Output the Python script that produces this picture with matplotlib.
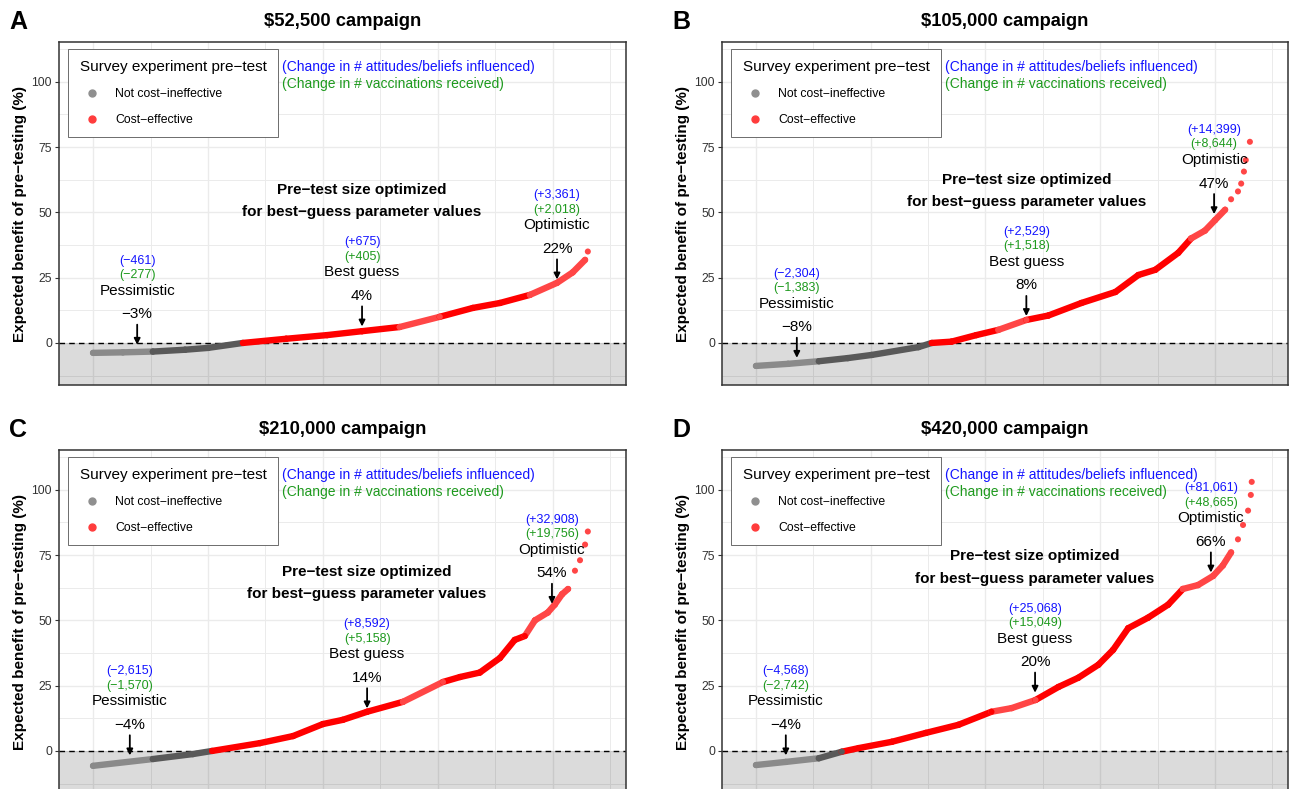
import matplotlib
matplotlib.use("Agg")
import matplotlib.pyplot as plt
from matplotlib.lines import Line2D

plt.rcParams['font.family'] = ['Liberation Sans', 'DejaVu Sans']

# ---- data (x = simulation rank after sorting, y = benefit %) ----
titles = ["$52,500 campaign", "$105,000 campaign", "$210,000 campaign", "$420,000 campaign"]
letters = ["A", "B", "C", "D"]

rank_a = [0, 65, 130, 200, 250, 326, 420, 509, 585, 667, 754, 826, 885, 950, 1009, 1043, 1070, 1076]
benefit_a = [-3.8, -3.6, -3.3, -2.6, -1.9, 0, 1.6, 3, 4.5, 6.1, 10, 13.4, 15.3, 18.4, 23, 27, 31.8, 35]

rank_b = [0, 70, 137, 200, 252, 354, 383, 426, 480, 528, 589, 637, 709, 783, 833, 870, 920, 948, 978,
          1000, 1022, 1035, 1050, 1057, 1063, 1067, 1076]
benefit_b = [-8.8, -8, -7, -5.8, -4.6, -1.6, 0, 0.5, 3, 5, 8.8, 10.5, 15.3, 19.5, 26, 28, 34.5, 40, 43,
             47, 51, 55, 58, 61, 65.6, 70, 77]

rank_c = [0, 130, 217, 259, 363, 435, 500, 543, 596, 674, 761, 798, 841, 885, 917, 939, 961, 989, 1004,
          1020, 1033, 1048, 1059, 1070, 1076]
benefit_c = [-5.7, -3.1, -1.2, 0, 3, 5.7, 10.3, 11.9, 15, 18.8, 26.4, 28.3, 30, 35.6, 42.5, 44, 50, 53, 56,
             60, 62, 69, 73, 79, 84]

rank_d = [0, 65, 137, 187, 224, 296, 370, 441, 513, 557, 609, 659, 702, 746, 778, 811, 854, 898, 930,
          963, 996, 1017, 1035, 1050, 1061, 1072, 1078, 1080]
benefit_d = [-5.4, -4.2, -2.8, -0.3, 1.1, 3.5, 6.9, 10, 15, 16.4, 19.5, 24.5, 28, 33, 38.7, 47, 51, 56, 62,
             63.5, 67, 71, 76, 81, 86.5, 92, 98, 103]

# scenario markers: rank, headline %, change in attitudes, change in vaccinations
scenario_names = ["Pessimistic", "Best guess", "Optimistic"]
scen_rank = [[96, 585, 1009], [89, 589, 998], [80, 596, 998], [65, 608, 991]]
scen_pct = [[-3, 4, 22], [-8, 8, 47], [-4, 14, 54], [-4, 20, 66]]
scen_att = [[-461, 675, 3361], [-2304, 2529, 14399], [-2615, 8592, 32908], [-4568, 25068, 81061]]
scen_vac = [[-277, 405, 2018], [-1383, 1518, 8644], [-1570, 5158, 19756], [-2742, 15049, 48665]]

# parts of the curve drawn lighter (less overlap of points); sparse top points drawn as dots only
gray_light_end = [130, 137, 130, 137]
red_light = [[(667, 754), (950, 1080)], [(528, 600), (935, 1080)],
             [(674, 761), (940, 1080)], [(535, 609), (930, 1080)]]
n_sparse = [1, 6, 4, 5]

ranks = [rank_a, rank_b, rank_c, rank_d]
benefits = [benefit_a, benefit_b, benefit_c, benefit_d]

W, H = 1290, 789
fig = plt.figure(figsize=(W / 100, H / 100), dpi=100)
boxes = [(59, 42, 626, 385), (722, 42, 1288, 385), (59, 450, 626, 793), (722, 450, 1288, 793)]


def sgn(v):
    return f"({v:+,})".replace("-", "\u2212")


def seg_color(r, v, k):
    if v < 0:
        return '#8a8a8a' if r < gray_light_end[k] else '#595959'
    for lo, hi in red_light[k]:
        if lo <= r <= hi:
            return '#ff4646'
    return '#ff0000'


for k in range(4):
    l, t, r, b = boxes[k]
    ax = fig.add_axes([l / W, 1 - b / H, (r - l) / W, (b - t) / H])
    ax.set_xlim(-74, 1159)
    ax.set_ylim(-16.1, 115.2)

    ax.set_xticks(range(0, 1126, 250))
    ax.set_xticks(range(125, 1126, 250), minor=True)
    ax.set_yticks([0, 25, 50, 75, 100])
    ax.set_yticks([-12.5, 12.5, 37.5, 62.5, 87.5, 112.5], minor=True)
    ax.grid(which='major', color='#ebebeb', lw=1.0)
    ax.grid(which='minor', color='#ebebeb', lw=0.7)
    ax.set_axisbelow(True)
    ax.tick_params(axis='x', which='both', length=0, labelbottom=False)
    ax.tick_params(axis='y', which='major', length=3, width=0.8, color='#333333',
                   labelsize=8.8, labelcolor='#333333', pad=2)
    ax.tick_params(axis='y', which='minor', length=0)
    for s in ax.spines.values():
        s.set_color('#333333')
        s.set_linewidth(1.1)

    # not cost-effective zone
    ax.axhspan(-16.1, 0, color='black', alpha=0.14, lw=0, zorder=1)
    ax.axhline(0, color='black', ls=(0, (4, 3)), lw=1.0, zorder=2)

    x = ranks[k]
    y = benefits[k]
    last = len(x) - n_sparse[k]
    for i in range(last - 1):
        c = seg_color((x[i] + x[i + 1]) / 2, (y[i] + y[i + 1]) / 2, k)
        ax.plot(x[i:i + 2], y[i:i + 2], color=c, lw=4.6, solid_capstyle='round', zorder=3)
    ax.scatter(x, y, s=19, c=[seg_color(xi, yi, k) for xi, yi in zip(x, y)], lw=0, zorder=3)

    # scenario annotations
    for j in range(3):
        xr = scen_rank[k][j]
        p = scen_pct[k][j]
        ax.annotate("", xy=(xr, p + 2.3), xytext=(xr, p + 10),
                    arrowprops=dict(arrowstyle='-|>', color='black', lw=1.3, mutation_scale=9,
                                    shrinkA=0, shrinkB=0), zorder=5)
        ax.text(xr, p + 14, f"{p}%".replace("-", "\u2212"), ha='center', va='center', fontsize=11, zorder=5)
        ax.text(xr, p + 23, scenario_names[j], ha='center', va='center', fontsize=11, zorder=5)
        ax.text(xr, p + 29, sgn(scen_vac[k][j]), ha='center', va='center', fontsize=9,
                color='#1e9a1e', zorder=5)
        ax.text(xr, p + 34.5, sgn(scen_att[k][j]), ha='center', va='center', fontsize=9,
                color='#1414ff', zorder=5)

    pb = scen_pct[k][1]
    ax.text(scen_rank[k][1], pb + 54.5, "Pre\u2212test size optimized", ha='center', va='center',
            fontsize=11, fontweight='bold', zorder=5)
    ax.text(scen_rank[k][1], pb + 46, "for best\u2212guess parameter values", ha='center', va='center',
            fontsize=11, fontweight='bold', zorder=5)

    ax.text(411, 105.7, "(Change in # attitudes/beliefs influenced)", color='#1414ff',
            fontsize=10, va='center', zorder=5)
    ax.text(411, 99.2, "(Change in # vaccinations received)", color='#1e9a1e',
            fontsize=10, va='center', zorder=5)

    handles = [Line2D([0], [0], marker='o', ls='', color='#8f8f8f', markersize=5, label='Not cost\u2212ineffective'),
               Line2D([0], [0], marker='o', ls='', color='#ff3c3c', markersize=5, label='Cost\u2212effective')]
    leg = ax.legend(handles=handles, title='Survey experiment pre\u2212test', loc='upper left',
                    bbox_to_anchor=(0.016, 0.98), borderaxespad=0, fontsize=8.8, title_fontsize=11,
                    alignment='left', fancybox=False, edgecolor='#555555', framealpha=1,
                    labelspacing=1.12, handletextpad=0.9, borderpad=0.95)
    leg.get_frame().set_linewidth(0.6)
    leg.set_zorder(6)

    ax.set_ylabel("Expected benefit of pre\u2212testing (%)", fontsize=11, fontweight='bold')
    ax.yaxis.set_label_coords(-0.057, 0.5)

    cx = (l + r) / 2
    fig.text(cx / W, 1 - (t - 20) / H, titles[k], ha='center', va='center', fontsize=13.2, fontweight='bold')
    fig.text((l - 41) / W, 1 - (t - 20) / H, letters[k], ha='center', va='center', fontsize=18, fontweight='bold')

fig.savefig("out.png", dpi=100)
